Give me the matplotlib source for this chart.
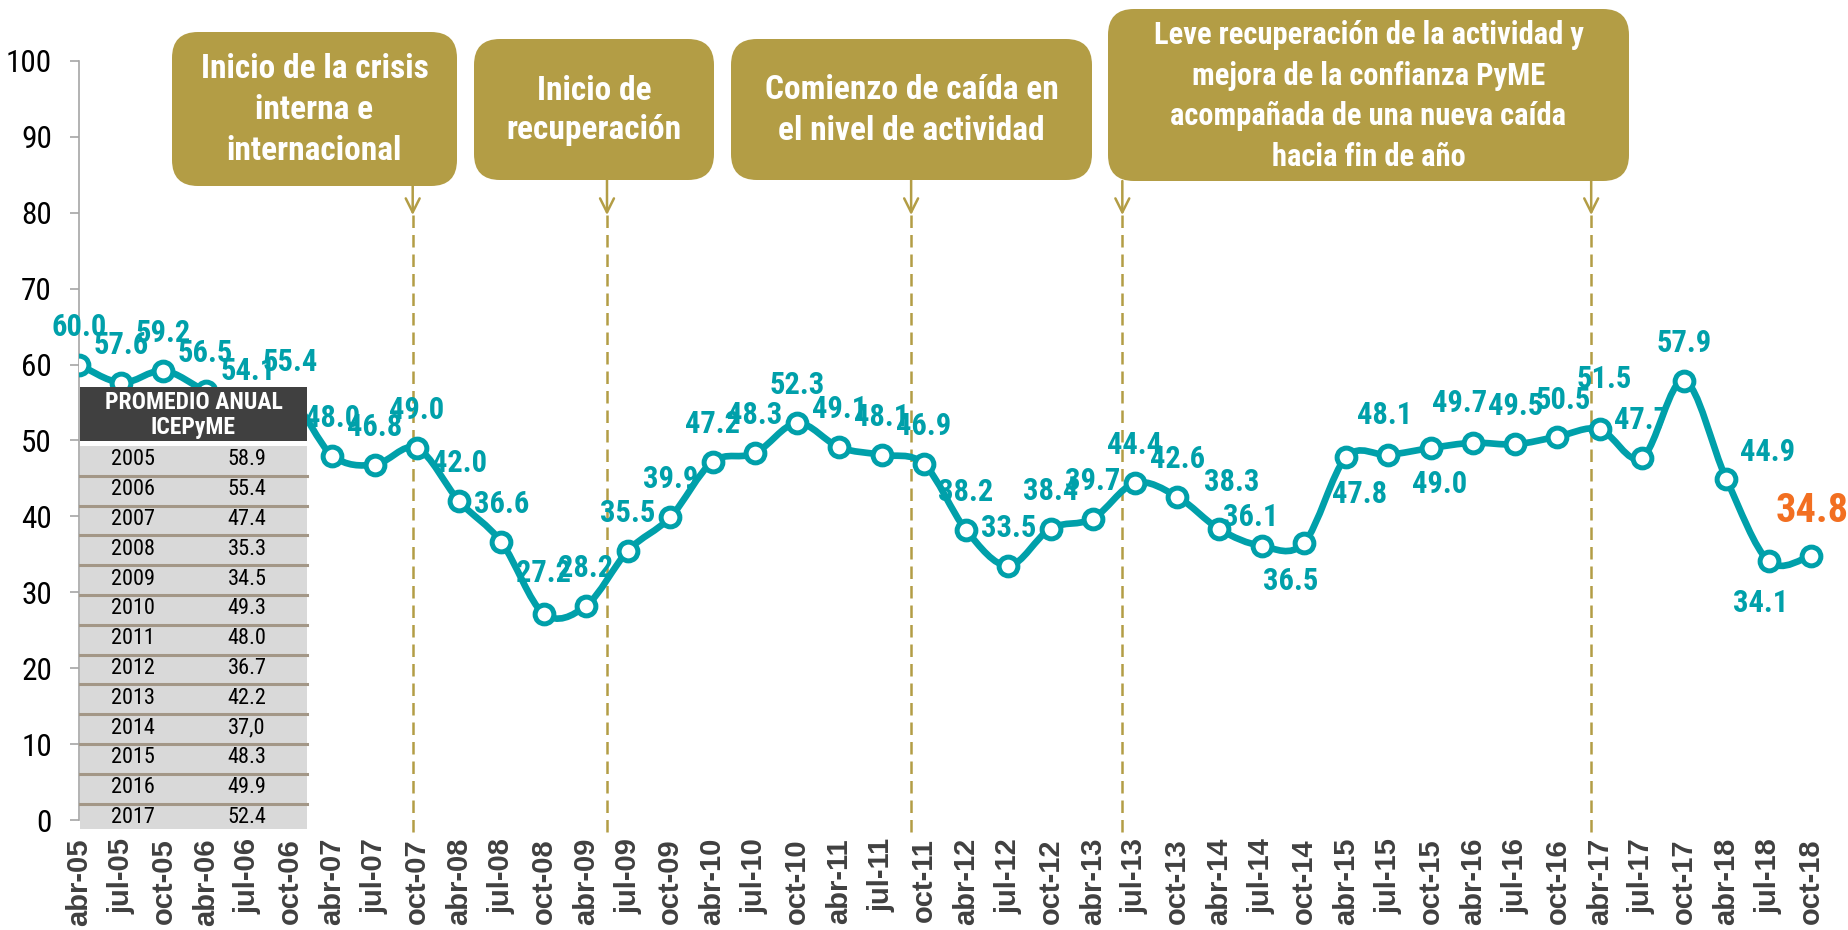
import numpy as np
import matplotlib
matplotlib.use("Agg")
from matplotlib import pyplot as plt
from matplotlib.path import Path
from matplotlib.patches import PathPatch, FancyBboxPatch, Rectangle

# ICEPyME trimestral
periods = ["abr-05", "jul-05", "oct-05", "abr-06", "jul-06", "oct-06",
           "abr-07", "jul-07", "oct-07", "abr-08", "jul-08", "oct-08",
           "abr-09", "jul-09", "oct-09", "abr-10", "jul-10", "oct-10",
           "abr-11", "jul-11", "oct-11", "abr-12", "jul-12", "oct-12",
           "abr-13", "jul-13", "oct-13", "abr-14", "jul-14", "oct-14",
           "abr-15", "jul-15", "oct-15", "abr-16", "jul-16", "oct-16",
           "abr-17", "jul-17", "oct-17", "abr-18", "jul-18", "oct-18"]
icepyme = [60.0, 57.6, 59.2, 56.5, 54.1, 55.4,
           48.0, 46.8, 49.0, 42.0, 36.6, 27.2,
           28.2, 35.5, 39.9, 47.2, 48.3, 52.3,
           49.1, 48.1, 46.9, 38.2, 33.5, 38.4,
           39.7, 44.4, 42.6, 38.3, 36.1, 36.5,
           47.8, 48.1, 49.0, 49.7, 49.5, 50.5,
           51.5, 47.7, 57.9, 44.9, 34.1, 34.8]

# promedio anual
years = ["2005", "2006", "2007", "2008", "2009", "2010", "2011",
         "2012", "2013", "2014", "2015", "2016", "2017"]
annual_avg = ["58.9", "55.4", "47.4", "35.3", "34.5", "49.3", "48.0",
              "36.7", "42.2", "37,0", "48.3", "49.9", "52.4"]

# eventos
box_texts = ["Inicio de la crisis\ninterna e\ninternacional",
             "Inicio de\nrecuperación",
             "Comienzo de caída en\nel nivel de actividad",
             "Leve recuperación de la actividad y\nmejora de la confianza PyME\n"
             "acompañada de una nueva caída\nhacia fin de año"]
event_pos = [7.9, 12.5, 19.7, 24.7, 35.8]
event_box = [0, 1, 2, 3, 3]

TEAL = "#00A0AA"
OLIVE = "#B39D45"
ORANGE = "#F26F21"
NARROW = ["Roboto Condensed", "DejaVu Sans"]

W, H = 1849, 930
fig = plt.figure(figsize=(W / 100, H / 100), dpi=100)

# main axes: x step 42.24 px, y 0..100 from px 820 to 61
step = 42.24
ax = fig.add_axes([79 / W, (H - 820) / H, (1836 - 79) / W, (820 - 61) / H])
ax.set_xlim(0, (1836 - 79) / step)
ax.set_ylim(0, 100)
for s in ["top", "right", "bottom"]:
    ax.spines[s].set_visible(False)
ax.spines["left"].set_color("#A6A6A6")
ax.spines["left"].set_linewidth(1.2)

n = len(icepyme)
xs = np.arange(n)
ys = np.array(icepyme)

# smoothed line (cubic bezier through the points)
pts = np.column_stack([xs, ys])
verts = [pts[0]]
codes = [Path.MOVETO]
for k in range(n - 1):
    p0 = pts[k - 1] if k > 0 else pts[k]
    p1, p2 = pts[k], pts[k + 1]
    p3 = pts[k + 2] if k + 2 < n else pts[k + 1]
    verts += [p1 + (p2 - p0) / 6, p2 - (p3 - p1) / 6, p2]
    codes += [Path.CURVE4] * 3
ax.add_patch(PathPatch(Path(verts, codes), fill=False, edgecolor=TEAL,
                       lw=4.8, capstyle="round", joinstyle="round", zorder=3))
ax.plot(xs, ys, "o", ms=13.5, mfc="white", mec=TEAL, mew=3.6, zorder=4)

# data labels (screen offsets in px, +down)
offsets = {11: (0, -41), 27: (12, -47), 28: (-11, -29), 29: (-13, 38),
           30: (13, 37), 31: (-4, -40), 32: (9, 36), 33: (-13, -40),
           35: (6, -37), 36: (5, -50), 39: (41, -27), 40: (-8, 42),
           41: (1, -45)}
for i, v in enumerate(icepyme):
    dx, dy = offsets.get(i, (0, -38))
    last = i == n - 1
    ax.annotate(f"{v:.1f}", (i, v), xytext=(dx, -dy), textcoords="offset pixels",
                ha="center", va="center", fontsize=29 if last else 22,
                fontweight="bold", color=ORANGE if last else TEAL,
                family=NARROW, zorder=5, annotation_clip=False)

# event lines
for x in event_pos:
    ax.plot([x, x], [79.7, -2], color=OLIVE, lw=1.8, dashes=(5, 2.8),
            clip_on=False, zorder=2)

ax.set_xticks(xs)
ax.set_xticklabels(periods, rotation=90, fontsize=21, fontweight="bold",
                   color="#404040", family="Liberation Sans")
ax.tick_params(axis="x", length=0, pad=13)
ax.set_yticks(range(0, 101, 10))
ax.set_yticklabels([str(v) for v in range(0, 101, 10)], family=NARROW,
                   fontsize=22.5, color="black")
ax.tick_params(axis="y", length=6.5, width=1.2, color="#A6A6A6", pad=13)

# overlay in pixel coords for boxes and table
ov = fig.add_axes([0, 0, 1, 1], zorder=5)
ov.set_xlim(0, W)
ov.set_ylim(H, 0)
ov.axis("off")

box_rects = [(172, 32, 457, 186), (474, 39, 714, 180),
             (731, 39, 1092, 180), (1108, 9, 1629, 181)]
box_sizes = [24, 24, 24, 22]
box_spacing = [1.35, 1.28, 1.37, 1.45]
for (x0, y0, x1, y1), txt, fs, ls in zip(box_rects, box_texts, box_sizes, box_spacing):
    ov.add_patch(FancyBboxPatch((x0, y0), x1 - x0, y1 - y0,
                                boxstyle="round,pad=0,rounding_size=26",
                                fc=OLIVE, ec="none"))
    ov.text((x0 + x1) / 2, (y0 + y1) / 2 + 1, txt, ha="center", va="center",
            color="white", fontsize=fs, fontweight="bold", family=NARROW,
            linespacing=ls)

# arrows from boxes to event lines
for x, b in zip(event_pos, event_box):
    y_top = (820 - box_rects[b][3]) / 7.59
    ax.annotate("", xy=(x, 79.7), xytext=(x, y_top),
                arrowprops=dict(arrowstyle="->,head_length=1.0,head_width=0.5",
                                color=OLIVE, lw=1.8, shrinkA=0, shrinkB=0),
                annotation_clip=False)

# table promedio anual
tx0, tx1 = 80, 307
ov.add_patch(Rectangle((tx0, 387), tx1 - tx0, 441 - 387, fc="#404040", ec="none"))
ov.text((tx0 + tx1) / 2, 415, "PROMEDIO ANUAL\nICEPyME", ha="center", va="center",
        color="white", fontsize=17, fontweight="bold", family=NARROW,
        linespacing=1.15)
row_top, row_h = 446, 29.8
ov.add_patch(Rectangle((tx0, row_top), tx1 - tx0, 829 - row_top,
                       fc="#D9D9D9", ec="none"))
for k, (yr, val) in enumerate(zip(years, annual_avg)):
    yc = row_top + (k + 0.5) * row_h - 1
    ov.text(133, yc, yr, ha="center", va="center", fontsize=16,
            family=NARROW, color="black")
    ov.text(247, yc, val, ha="center", va="center", fontsize=16,
            family=NARROW, color="black")
    if k > 0:
        ov.plot([tx0, tx1], [row_top + k * row_h] * 2, color="#A39787", lw=2.2)

fig.savefig("out.png", dpi=100)
